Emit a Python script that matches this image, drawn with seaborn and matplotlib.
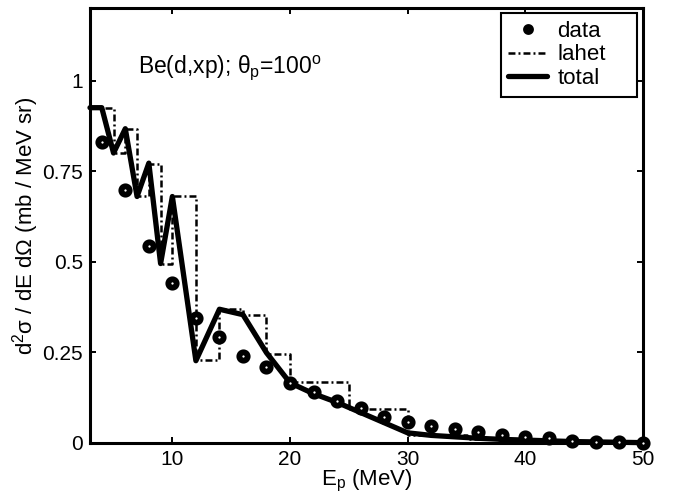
import matplotlib
matplotlib.use("Agg")
import matplotlib.pyplot as plt
import seaborn as sns

# Measured double-differential cross sections, Be(d,xp) at 100 degrees
data_E = [4, 6, 8, 10, 12, 14, 16, 18, 20, 22, 24, 26, 28, 30,
          32, 34, 36, 38, 40, 42, 44, 46, 48, 50]
data_xs = [0.829, 0.697, 0.544, 0.442, 0.345, 0.292, 0.240, 0.209, 0.165,
           0.140, 0.117, 0.096, 0.073, 0.059, 0.047, 0.040, 0.031, 0.022,
           0.017, 0.013, 0.006, 0.004, 0.002, 0.001]

# LAHET histogram: bin edges and bin contents
lahet_edges = [3, 4, 5, 6, 7, 8, 9, 10, 12, 14, 16, 18, 20, 25, 30, 35, 40, 45, 50]
lahet_xs = [0.925, 0.925, 0.800, 0.865, 0.680, 0.770, 0.495, 0.680, 0.228,
            0.369, 0.354, 0.246, 0.167, 0.093, 0.022, 0.010, 0.005, 0.003]

# Total model curve
total_E = [3, 4, 5, 6, 7, 8, 9, 10, 12, 14, 16, 18, 20, 22, 24, 26, 28, 30,
           32, 34, 36, 38, 40, 42, 44, 46, 48, 50]
total_xs = [0.925, 0.925, 0.800, 0.867, 0.680, 0.772, 0.495, 0.680, 0.227,
            0.369, 0.354, 0.249, 0.166, 0.136, 0.112, 0.084, 0.056, 0.028,
            0.021, 0.017, 0.013, 0.010, 0.008, 0.006, 0.004, 0.003, 0.002, 0.001]

x_ticks = [10, 20, 30, 40, 50]
y_ticks = [0, 0.25, 0.5, 0.75, 1]
y_tick_labels = ["0", "0.25", "0.5", "0.75", "1"]

sns.set_style("ticks")
plt.rcParams.update({
    "font.family": ["Liberation Sans", "DejaVu Sans"],
    "mathtext.fontset": "custom",
    "mathtext.rm": "Liberation Sans",
    "mathtext.it": "Liberation Sans",
    "mathtext.sf": "Liberation Sans",
    "mathtext.bf": "Liberation Sans:bold",
    "lines.scale_dashes": False,
    "text.color": "black",
    "axes.labelcolor": "black",
    "xtick.color": "black",
    "ytick.color": "black",
})

fig = plt.figure(figsize=(6.73, 4.99), dpi=100)
ax = fig.add_axes([90 / 673, 56 / 499, 553 / 673, 435 / 499])

# histogram drawn as a step line (last bin value repeated at the final edge)
sns.lineplot(x=lahet_edges, y=lahet_xs + lahet_xs[-1:], ax=ax, color="black",
             linewidth=1.8, drawstyle="steps-post", label="lahet", zorder=2)
lahet_line = ax.lines[-1]
lahet_line.set_dashes([5, 2.2, 1.4, 2.2])

sns.lineplot(x=total_E, y=total_xs, ax=ax, color="black", linewidth=3.8,
             label="total", zorder=3)
total_line = ax.lines[-1]
total_line.set_clip_on(False)

data_line, = ax.plot(data_E, data_xs, linestyle="none", marker="o",
                     markersize=6.0, markeredgewidth=4.2,
                     markerfacecolor="white", markeredgecolor="black",
                     label="data", zorder=4, clip_on=False)

ax.set_xlim(3, 50)
ax.set_ylim(0, 1.2)
ax.set_xticks(x_ticks)
ax.set_yticks(y_ticks)
ax.set_yticklabels(y_tick_labels)

for side in ax.spines.values():
    side.set_visible(True)
    side.set_linewidth(2.2)
    side.set_color("black")

ax.tick_params(direction="in", length=4, width=1.4, top=True, right=True,
               labelsize=15, pad=5, colors="black")

ax.set_xlabel(r"E$_\mathrm{p}$ (MeV)", fontsize=16)
ax.xaxis.set_label_coords(0.5, -0.058)
ax.set_ylabel(r"d$^2\sigma$ / dE d$\Omega$ (mb / MeV sr)", fontsize=16)
ax.yaxis.set_label_coords(-0.088, 0.5)

ax.text(7.05, 1.02, r"Be(d,xp); $\theta_\mathrm{p}$=100$^\mathrm{o}$",
        fontsize=16.5, ha="left", va="baseline")

# legend box stretched to a fixed width in the upper right corner
leg = ax.legend(handles=[data_line, lahet_line, total_line],
                labels=["data", "lahet", "total"],
                loc="upper left", bbox_to_anchor=(0.7427, 0.0, 0.2458, 0.9885),
                mode="expand", borderaxespad=0.0,
                fontsize=16, frameon=True, fancybox=False,
                edgecolor="black", framealpha=1, markerscale=0.6,
                handlelength=1.75, handletextpad=0.45, labelspacing=0.12,
                borderpad=0.35)
leg.get_frame().set_linewidth(1.5)

fig.savefig("out.png", dpi=100)
